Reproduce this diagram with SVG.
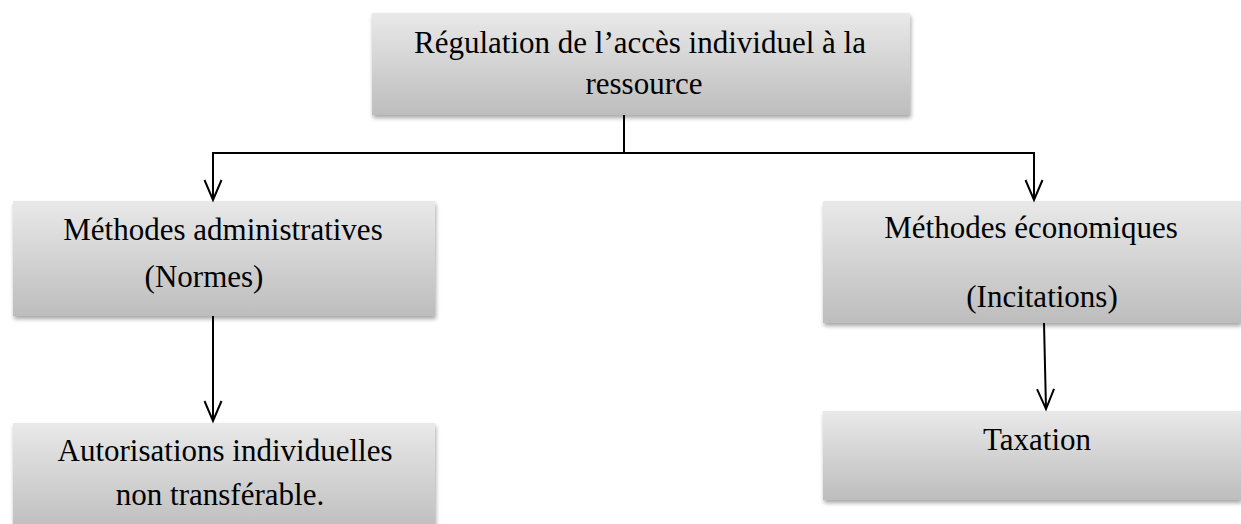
<svg xmlns="http://www.w3.org/2000/svg" width="1241" height="524" viewBox="0 0 1241 524">
<defs>
<linearGradient id="g" x1="0" y1="0" x2="0" y2="1">
<stop offset="0" stop-color="#e9e9e9"/>
<stop offset="1" stop-color="#bdbdbd"/>
</linearGradient>
<filter id="sh" x="-5%" y="-10%" width="110%" height="130%">
<feGaussianBlur in="SourceAlpha" stdDeviation="2"/>
<feOffset dx="1" dy="3" result="b"/>
<feComponentTransfer><feFuncA type="linear" slope="0.35"/></feComponentTransfer>
<feMerge><feMergeNode/><feMergeNode in="SourceGraphic"/></feMerge>
</filter>
<marker id="ah" markerWidth="24" markerHeight="20" refX="21" refY="10" orient="auto" markerUnits="userSpaceOnUse" viewBox="0 0 24 20">
<path d="M1,1.5 L21,10 L1,18.5" fill="none" stroke="#000" stroke-width="2"/>
</marker>
<style>
.box{fill:url(#g);filter:url(#sh)}
.t{font-family:"Liberation Serif","Times New Roman",serif;font-size:31px;fill:#000}
.c{fill:none;stroke:#000;stroke-width:2}
</style>
</defs>
<rect width="1241" height="524" fill="#fff"/>
<g id="n_top">
<rect class="box" x="372" y="13" width="538" height="102"/>
<text class="t" x="640" y="53" text-anchor="middle">Régulation de l’accès individuel à la</text>
<text class="t" x="644" y="94" text-anchor="middle">ressource</text>
</g>
<g id="n_admin">
<rect class="box" x="13" y="201" width="422" height="115"/>
<text class="t" x="223" y="240" text-anchor="middle">Méthodes administratives</text>
<text class="t" x="204" y="287" text-anchor="middle">(Normes)</text>
</g>
<g id="n_eco">
<rect class="box" x="823" y="201" width="418" height="122"/>
<text class="t" x="1031" y="238" text-anchor="middle">Méthodes économiques</text>
<text class="t" x="1042" y="307" text-anchor="middle">(Incitations)</text>
</g>
<g id="n_auto">
<rect class="box" x="13" y="423" width="422" height="110"/>
<text class="t" x="225" y="461" text-anchor="middle">Autorisations individuelles</text>
<text class="t" x="220" y="505" text-anchor="middle">non transférable.</text>
</g>
<g id="n_tax">
<rect class="box" x="823" y="411" width="418" height="89"/>
<text class="t" x="1037" y="450" text-anchor="middle">Taxation</text>
</g>
<g id="connectors">
<path class="c" d="M624,115 V153"/>
<path class="c" d="M213,153 H1034"/>
<path class="c" d="M213,152 V200" marker-end="url(#ah)"/>
<path class="c" d="M1034,152 V200" marker-end="url(#ah)"/>
<path class="c" d="M213,316 V421" marker-end="url(#ah)"/>
<path class="c" d="M1044,323 L1046,409" marker-end="url(#ah)"/>
</g>
</svg>
